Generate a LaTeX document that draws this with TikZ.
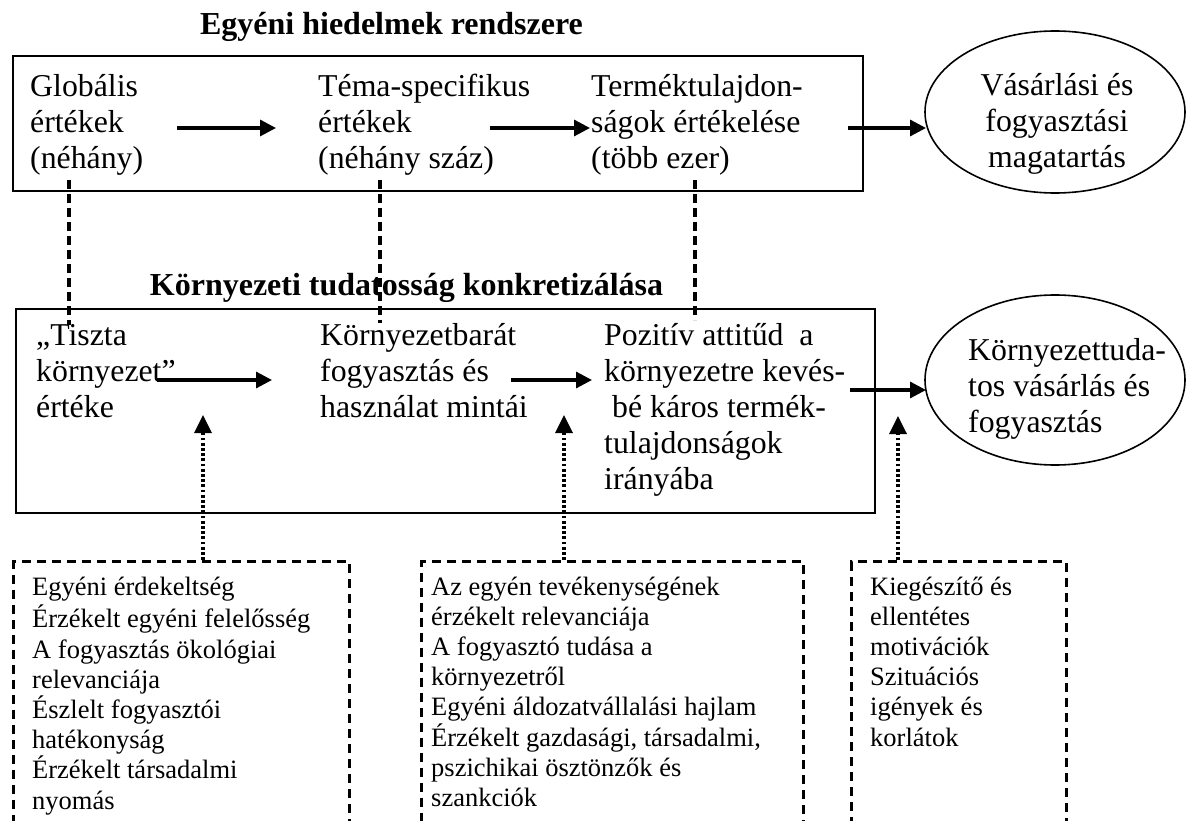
\documentclass[tikz,border=0pt]{standalone}
\usepackage{fontspec}
\setmainfont{Liberation Serif}
\usetikzlibrary{arrows.meta,shapes.geometric}
\begin{document}
\begin{tikzpicture}[x=1pt,y=-1pt,
  txt/.style={inner sep=0pt, anchor=north west, align=left, font=\fontsize{31.8}{36.2}\selectfont},
  small/.style={inner sep=0pt, anchor=north west, align=left, font=\fontsize{26.5}{30.2}\selectfont},
  heading/.style={inner sep=0pt, anchor=base, font=\fontsize{32}{38}\selectfont\bfseries},
  frame/.style={draw, line width=2pt, anchor=north west, inner sep=0pt},
  oval/.style={draw, ellipse, line width=1.6pt, inner sep=0pt},
  flow/.style={line width=3.2pt, -{Triangle[length=16pt,width=16pt]}},
  link/.style={line width=3.2pt, dash pattern=on 9pt off 5pt},
  influence/.style={line width=3.4pt, dash pattern=on 2.8pt off 2.4pt, -{Triangle[length=18pt,width=17pt]}},
  factorbox/.style={draw, line width=3pt, dash pattern=on 9pt off 6pt, anchor=north west, inner sep=0pt},
]
\clip (0,0) rectangle (1186,821);

% upper level: individual belief system
\node[heading] (t1) at (391.5,35) {Egyéni hiedelmek rendszere};
\node[frame, minimum width=850pt, minimum height=135pt] (beliefs) at (12,55) {};
\node[txt] (glob) at (30,70.5) {\strut Globális\\értékek\\(néhány)};
\node[txt] (tema) at (318,70.5) {\strut Téma-specifikus\\értékek\\(néhány száz)};
\node[txt] (term) at (591,70.5) {\strut Terméktulajdon-\\ságok értékelése\\(több ezer)};
\node[oval, minimum width=260pt, minimum height=162pt] (e1) at (1055,112) {};
\node[txt, anchor=north, align=center] (e1t) at (1057,69.5) {\strut Vásárlási és\\fogyasztási\\magatartás};

% lower level: environmental consciousness made concrete
\node[heading] (t2) at (406.5,295) {Környezeti tudatosság konkretizálása};
\node[frame, minimum width=859pt, minimum height=204pt] (concrete) at (15,308) {};
\node[txt] (tiszta) at (36,319.5) {\strut „Tiszta\\környezet”\\értéke};
\node[txt] (korny) at (320,319.5) {\strut Környezetbarát\\fogyasztás és\\használat mintái};
\node[txt] (poz) at (604,319.5) {\strut Pozitív attitűd\ \ a\\környezetre kevés-\\\hspace{8pt}bé káros termék-\\tulajdonságok\\irányába};
\node[oval, minimum width=260pt, minimum height=170pt] (e2) at (1055,380) {};
\node[txt] (e2t) at (968,334.5) {\strut Környezettuda-\\tos vásárlás és\\fogyasztás};

% influencing factors
\node[factorbox, minimum width=336pt, minimum height=290pt] (f1) at (12,560) {};
\node[factorbox, minimum width=382pt, minimum height=290pt] (f2) at (420,560) {};
\node[factorbox, minimum width=215pt, minimum height=290pt] (f3) at (850,560) {};
\node[small] (f1t) at (32,573.8) {\strut Egyéni érdekeltség\\Érzékelt egyéni felelősség\\A fogyasztás ökológiai\\relevanciája\\Észlelt fogyasztói\\hatékonyság\\Érzékelt társadalmi\\nyomás};
\node[small] (f2t) at (431,573.8) {\strut Az egyén tevékenységének\\érzékelt relevanciája\\A fogyasztó tudása a\\környezetről\\Egyéni áldozatvállalási hajlam\\Érzékelt gazdasági, társadalmi,\\pszichikai ösztönzők és\\szankciók};
\node[small] (f3t) at (870,573.8) {\strut Kiegészítő és\\ellentétes\\motivációk\\Szituációs\\igények és\\korlátok};

% arrow end points
\coordinate (a1s) at (177,128); \coordinate (a1e) at (276,128);
\coordinate (a2s) at (490,128); \coordinate (a2e) at (590,128);
\coordinate (a3s) at (848,128); \coordinate (a3e) at (926,128);
\coordinate (b1s) at (157,380); \coordinate (b1e) at (272,380);
\coordinate (b2s) at (511,380); \coordinate (b2e) at (592,380);
\coordinate (b3s) at (850,390); \coordinate (b3e) at (926,390);
\coordinate (d1s) at (69,180);  \coordinate (d1e) at (69,325);
\coordinate (d2s) at (380,180); \coordinate (d2e) at (380,323);
\coordinate (d3s) at (695,180); \coordinate (d3e) at (695,320);
\coordinate (i1) at (203,415); \coordinate (i2) at (564,415); \coordinate (i3) at (898,416);

% flow arrows
\draw[flow] (a1s) -- (a1e);
\draw[flow] (a2s) -- (a2e);
\draw[flow] (a3s) -- (a3e);
\draw[flow] (b1s) -- (b1e);
\draw[flow] (b2s) -- (b2e);
\draw[flow] (b3s) -- (b3e);

% links between the two levels
\draw[link] (d1s) -- (d1e);
\draw[link] (d2s) -- (d2e);
\draw[link] (d3s) -- (d3e);

% factor influences
\draw[influence] (f1.north -| i1) -- (i1);
\draw[influence] (f2.north -| i2) -- (i2);
\draw[influence] (f3.north -| i3) -- (i3);
\end{tikzpicture}
\end{document}
